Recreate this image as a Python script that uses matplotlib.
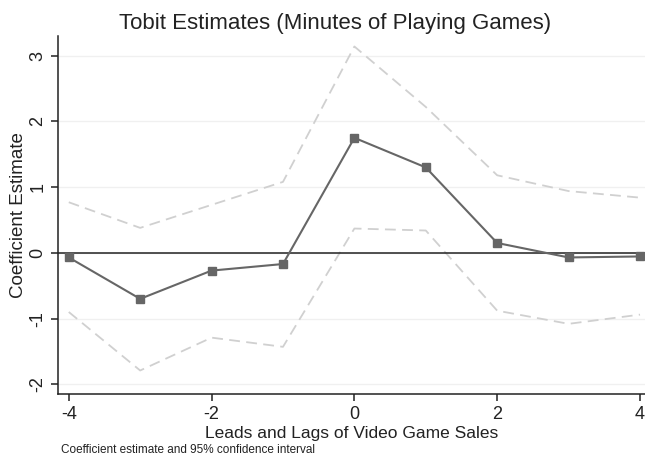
import numpy as np
import matplotlib.pyplot as plt

plt.rcParams['font.family'] = ['Liberation Sans', 'DejaVu Sans']
plt.rcParams['axes.unicode_minus'] = False

# event time: leads and lags of video game sales
lags = [-4, -3, -2, -1, 0, 1, 2, 3, 4]
coef = [-0.07, -0.70, -0.27, -0.17, 1.75, 1.30, 0.15, -0.07, -0.055]
ci_upper = [0.77, 0.38, 0.73, 1.08, 3.14, 2.22, 1.18, 0.94, 0.84]
ci_lower = [-0.90, -1.79, -1.29, -1.43, 0.37, 0.34, -0.88, -1.08, -0.94]

fig = plt.figure(figsize=(6.45, 4.61), dpi=100)
ax = fig.add_axes([0.09, 0.145, 0.91, 0.777])

ax.plot(lags, ci_upper, color='#d0d0d0', lw=1.3, dashes=(6, 3.5))
ax.plot(lags, ci_lower, color='#d0d0d0', lw=1.3, dashes=(6, 3.5))
ax.axhline(0, color='#222222', lw=1.1)
ax.plot(lags, coef, color='#666666', lw=1.5, marker='s', ms=5.5)

ax.set_xlim(-4.15, 4.07)
ax.set_ylim(-2.15, 3.3)
ax.set_xticks([-4, -2, 0, 2, 4])
ax.set_yticks([-2, -1, 0, 1, 2, 3])
ax.grid(axis='y', color='#f0f0f0', lw=1)
ax.set_axisbelow(True)

for s in ['top', 'right']:
    ax.spines[s].set_visible(False)
for s in ['left', 'bottom']:
    ax.spines[s].set_color('#222222')
    ax.spines[s].set_linewidth(1.1)

ax.tick_params(labelsize=13, length=5, width=1.1, color='#222222', labelcolor='#222222')
for lbl in ax.get_yticklabels():
    lbl.set_rotation(90)
    lbl.set_va('center')

ax.set_title('Tobit Estimates (Minutes of Playing Games)', fontsize=16,
             color='#222222', pad=5, x=0.472)
ax.set_xlabel('Leads and Lags of Video Game Sales', fontsize=12.5,
              color='#222222', labelpad=2)
ax.set_ylabel('Coefficient Estimate', fontsize=13.5, color='#222222', labelpad=1.5)

fig.text(0.095, 0.017, 'Coefficient estimate and 95% confidence interval',
         fontsize=8.5, color='#222222')

fig.savefig('out.png', dpi=100)
